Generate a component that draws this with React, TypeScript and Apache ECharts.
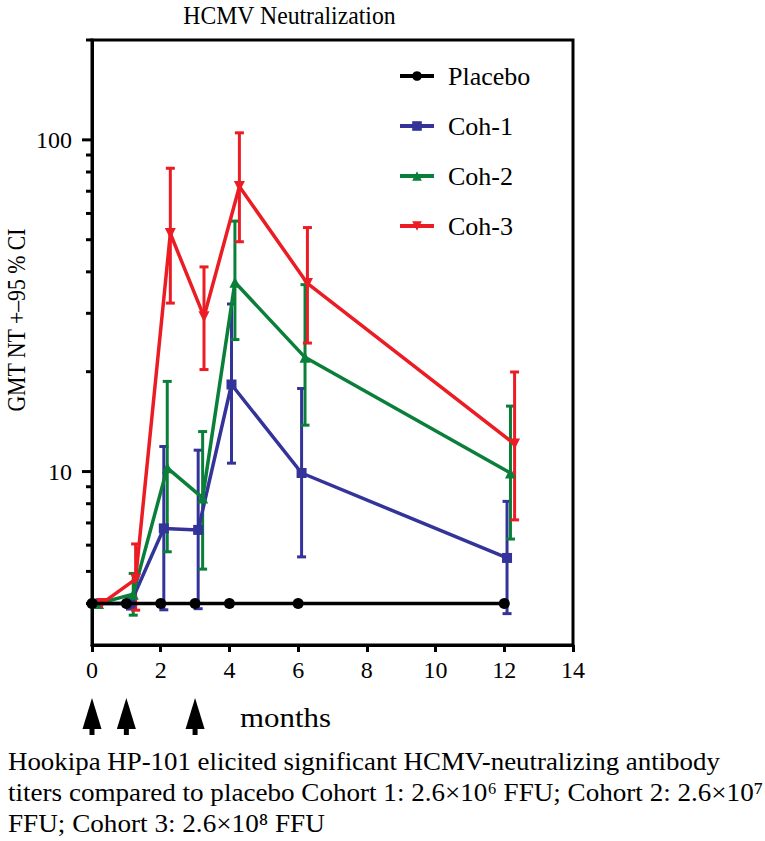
import React, { useEffect, useRef } from "react";
import * as echarts from "echarts";

// ---- data ----
const placeboX = [0, 1, 2, 3, 4, 6, 12];
const placeboY = [4, 4, 4, 4, 4, 4, 4];

const coh1X = [0.1, 1.12, 2.09, 3.09, 4.06, 6.1, 12.08];
const coh1Y = [4, 4, 6.74, 6.67, 18.3, 9.9, 5.49];
const coh1Low = [4, 3.85, 3.83, 3.86, 10.6, 5.53, 3.73];
const coh1High = [4, 4.2, 11.9, 11.6, 32, 17.8, 8.13];

const coh2X = [0.19, 1.2, 2.19, 3.22, 4.16, 6.2, 12.18];
const coh2Y = [4, 4.27, 10.26, 8.33, 37.2, 22.1, 9.9];
const coh2Low = [4, 3.69, 5.73, 5.08, 25.0, 13.8, 6.26];
const coh2High = [4, 4.93, 18.7, 13.2, 56.9, 36.6, 15.75];

const coh3X = [0.28, 1.27, 2.28, 3.26, 4.29, 6.27, 12.3];
const coh3Y = [4, 4.74, 52.2, 29.3, 72.3, 36.9, 12.1];
const coh3Low = [4, 3.82, 32.2, 20.3, 49.3, 24.4, 7.15];
const coh3High = [4, 6.05, 82.1, 41.4, 105, 54.4, 19.96];

const seriesNames = ["Placebo", "Coh-1", "Coh-2", "Coh-3"];
const yMajorTicks = [10, 100];
const yMinorTicks = [4, 5, 6, 7, 8, 9, 20, 30, 40, 50, 60, 70, 80, 90, 200];
const doseMonths = [0, 1, 3];

const titleText = "HCMV Neutralization";
const yName = "GMT NT +\u201395 % CI";
const xName = "months";
const captionLines = [
  "Hookipa HP-101 elicited significant HCMV-neutralizing antibody",
  "titers compared to placebo Cohort 1: 2.6\u00d710\u2076 FFU; Cohort 2: 2.6\u00d710\u2077",
  "FFU; Cohort 3: 2.6\u00d710\u2078 FFU",
];

const FONT = "Liberation Serif";
const COLORS = ["#000000", "#333399", "#0a7f3a", "#ec1c24"];

function zip(xs: number[], ys: number[]) {
  return xs.map((x, i) => [x, ys[i]]);
}
function zip3(xs: number[], lo: number[], hi: number[]) {
  return xs.map((x, i) => [x, lo[i], hi[i]]).filter((d) => d[1] !== d[2]);
}

function fitScale(text: string, size: number, target: number) {
  const ctx = document.createElement("canvas").getContext("2d");
  if (!ctx) return 1;
  ctx.font = `${size}px "${FONT}"`;
  const w = ctx.measureText(text).width;
  return w > 0 ? target / w : 1;
}

function errorSeries(name: string, color: string, data: number[][]) {
  return {
    type: "custom",
    name,
    z: 2,
    clip: false,
    data,
    encode: { x: 0, y: [1, 2] },
    renderItem: (_p: any, api: any) => {
      const x = api.value(0);
      const lo = api.coord([x, api.value(1)]);
      const hi = api.coord([x, api.value(2)]);
      const hw = 4.5;
      const style = { stroke: color, lineWidth: 3 };
      return {
        type: "group",
        children: [
          { type: "line", shape: { x1: lo[0], y1: lo[1], x2: hi[0], y2: hi[1] }, style },
          { type: "line", shape: { x1: lo[0] - hw, y1: lo[1], x2: lo[0] + hw, y2: lo[1] }, style },
          { type: "line", shape: { x1: hi[0] - hw, y1: hi[1], x2: hi[0] + hw, y2: hi[1] }, style },
        ],
      };
    },
  };
}

function tickSeries(values: number[], len: number) {
  return {
    type: "custom",
    name: "ticks" + len,
    z: 5,
    clip: false,
    silent: true,
    data: values.map((v) => [0, v]),
    encode: { x: 0, y: 1 },
    renderItem: (_p: any, api: any) => {
      const p = api.coord([0, api.value(1)]);
      return {
        type: "line",
        shape: { x1: p[0] - len, y1: p[1], x2: p[0], y2: p[1] },
        style: { stroke: "#000", lineWidth: 3 },
      };
    },
  };
}

function lineSeries(name: string, color: string, data: number[][], symbol: string, size: number, rotate = 0, z = 3) {
  return {
    type: "line",
    name,
    data,
    z,
    symbol,
    symbolSize: size,
    symbolRotate: rotate,
    showSymbol: true,
    lineStyle: { color, width: 3.5 },
    itemStyle: { color },
  };
}

function textEl(text: string, x: number, y: number, size: number, target: number, align: string, rotation = 0) {
  return {
    type: "text",
    x,
    y,
    rotation,
    scaleX: fitScale(text, size, target),
    style: {
      text,
      fontSize: size,
      fontFamily: FONT,
      fill: "#000",
      align,
      verticalAlign: "middle",
      textAlign: align,
      textVerticalAlign: "middle",
    },
  };
}

export default function App() {
  const ref = useRef<HTMLDivElement>(null);

  useEffect(() => {
    if (!ref.current) return;
    const chart = echarts.init(ref.current, null, { renderer: "svg", width: 765, height: 841 });
    const txt = { fontFamily: FONT, color: "#000" };

    chart.setOption({
      animation: false,
      backgroundColor: "#fff",
      grid: { left: 92, top: 40, width: 481, height: 605, show: true, borderColor: "#000", borderWidth: 3 },
      legend: {
        data: seriesNames,
        orient: "vertical",
        left: 398,
        top: 63,
        padding: 0,
        itemWidth: 34,
        itemHeight: 12,
        itemGap: 24,
        lineStyle: { width: 4 },
        textStyle: { ...txt, fontSize: 26, lineHeight: 25, padding: [0, 0, 0, 9] },
      },
      xAxis: {
        type: "value",
        min: 0,
        max: 14,
        interval: 2,
        splitLine: { show: false },
        axisLine: { lineStyle: { color: "#000", width: 3 } },
        axisTick: { length: 7, lineStyle: { color: "#000", width: 3 } },
        axisLabel: { ...txt, fontSize: 24, margin: 13 },
      },
      yAxis: {
        type: "log",
        logBase: 10,
        min: 3,
        max: 200,
        splitLine: { show: false },
        axisLine: { lineStyle: { color: "#000", width: 3 } },
        axisTick: { show: false },
        axisLabel: {
          ...txt,
          fontSize: 24,
          margin: 20,
          showMinLabel: false,
          showMaxLabel: false,
          formatter: (v: number) => {
            const m = yMajorTicks.find((t) => Math.abs(t - v) < 1e-6 * t);
            return m ? String(m) : "";
          },
        },
      },
      series: [
        tickSeries(yMinorTicks, 6),
        tickSeries(yMajorTicks, 10),
        errorSeries("Coh-1 CI", COLORS[1], zip3(coh1X, coh1Low, coh1High)),
        errorSeries("Coh-2 CI", COLORS[2], zip3(coh2X, coh2Low, coh2High)),
        errorSeries("Coh-3 CI", COLORS[3], zip3(coh3X, coh3Low, coh3High)),
        lineSeries("Coh-1", COLORS[1], zip(coh1X, coh1Y), "rect", 10),
        lineSeries("Coh-2", COLORS[2], zip(coh2X, coh2Y), "triangle", 11),
        lineSeries("Coh-3", COLORS[3], zip(coh3X, coh3Y), "triangle", 11, 180),
        lineSeries("Placebo", COLORS[0], zip(placeboX, placeboY), "circle", 11, 0, 4),
      ],
    });

    const graphics: any[] = [];
    graphics.push(textEl(titleText, 289.5, 15, 26, 213, "center"));
    graphics.push(textEl(yName, 16, 320, 25, 184, "center", Math.PI / 2));
    graphics.push(textEl(xName, 240, 718, 28, 91, "left"));
    doseMonths.forEach((m) => {
      const cx = chart.convertToPixel({ xAxisIndex: 0 }, m) as number;
      graphics.push({
        type: "polygon",
        shape: { points: [[cx, 698], [cx - 9.5, 729], [cx + 9.5, 729]] },
        style: { fill: "#000" },
      });
      graphics.push({
        type: "rect",
        shape: { x: cx - 2.5, y: 727, width: 5, height: 8 },
        style: { fill: "#000" },
      });
    });
    const capTargets = [712, 755, 317];
    const capY = [761, 792, 823];
    captionLines.forEach((line, i) => {
      graphics.push(textEl(line, 8, capY[i], 26, capTargets[i], "left"));
    });

    chart.setOption({ graphic: graphics });

    return () => chart.dispose();
  }, []);

  return (
    <div
      ref={ref}
      style={{ position: "absolute", left: 0, top: 0, width: 765, height: 841, background: "#fff" }}
    />
  );
}
